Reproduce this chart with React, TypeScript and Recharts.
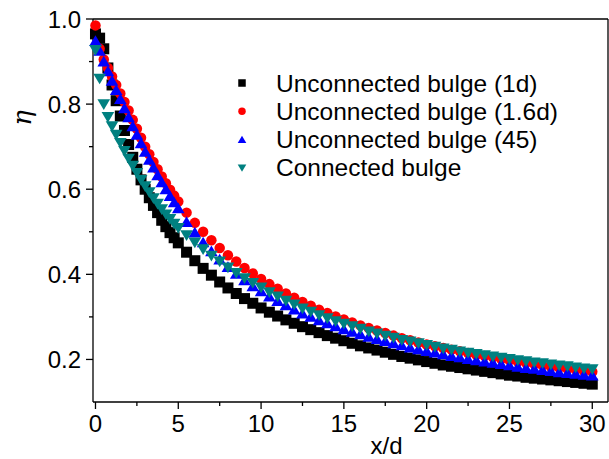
import React from "react";
import { Legend, ReferenceLine, Scatter, ScatterChart, XAxis, YAxis } from "recharts";

const FONT = "'Liberation Sans', Arial, sans-serif";

// x/d positions of the samples
const X_VALUES = [
  0, 0.25, 0.5, 0.75, 1, 1.25, 1.5, 1.75, 2, 2.25, 2.5, 2.75, 3, 3.25, 3.5, 3.75, 4, 4.25, 4.5, 4.75, 5,
  5.5, 6, 6.5, 7, 7.5, 8, 8.5, 9, 9.5, 10,
  10.5, 11, 11.5, 12, 12.5, 13, 13.5, 14, 14.5, 15,
  15.5, 16, 16.5, 17, 17.5, 18, 18.5, 19, 19.5, 20,
  20.5, 21, 21.5, 22, 22.5, 23, 23.5, 24, 24.5, 25,
  25.5, 26, 26.5, 27, 27.5, 28, 28.5, 29, 29.5, 30,
];

const UNCONNECTED_1D = [
  0.965, 0.955, 0.93, 0.885, 0.845, 0.808, 0.772, 0.738, 0.705, 0.675, 0.647, 0.622, 0.6, 0.58, 0.562, 0.545, 0.527, 0.512, 0.498, 0.486, 0.474,
  0.452, 0.432, 0.414, 0.398, 0.382, 0.368, 0.355, 0.343, 0.332, 0.321,
  0.311, 0.302, 0.293, 0.285, 0.277, 0.27, 0.263, 0.256, 0.25, 0.244,
  0.238, 0.232, 0.227, 0.222, 0.217, 0.212, 0.207, 0.203, 0.199, 0.195,
  0.191, 0.187, 0.184, 0.181, 0.178, 0.175, 0.172, 0.169, 0.166, 0.163,
  0.161, 0.158, 0.156, 0.154, 0.152, 0.15, 0.148, 0.146, 0.144, 0.142,
];

const UNCONNECTED_16D = [
  0.985, 0.93, 0.905, 0.885, 0.865, 0.845, 0.825, 0.805, 0.785, 0.763, 0.742, 0.721, 0.7, 0.682, 0.664, 0.647, 0.63, 0.614, 0.599, 0.585, 0.571,
  0.545, 0.521, 0.5, 0.48, 0.462, 0.445, 0.43, 0.415, 0.402, 0.389,
  0.377, 0.366, 0.355, 0.345, 0.335, 0.326, 0.317, 0.309, 0.301, 0.294,
  0.287, 0.28, 0.274, 0.268, 0.262, 0.256, 0.25, 0.245, 0.24, 0.235,
  0.231, 0.227, 0.223, 0.219, 0.215, 0.211, 0.208, 0.205, 0.201, 0.198,
  0.195, 0.192, 0.189, 0.186, 0.183, 0.181, 0.178, 0.176, 0.173, 0.171,
];

const UNCONNECTED_45 = [
  0.948, 0.925, 0.9, 0.877, 0.855, 0.833, 0.812, 0.79, 0.769, 0.748, 0.728, 0.708, 0.688, 0.669, 0.651, 0.633, 0.616, 0.6, 0.584, 0.569, 0.555,
  0.523, 0.498, 0.475, 0.454, 0.435, 0.417, 0.401, 0.386, 0.372, 0.36,
  0.348, 0.337, 0.327, 0.317, 0.308, 0.3, 0.292, 0.285, 0.278, 0.271,
  0.265, 0.259, 0.253, 0.248, 0.243, 0.238, 0.233, 0.228, 0.224, 0.22,
  0.216, 0.212, 0.208, 0.205, 0.201, 0.198, 0.195, 0.192, 0.189, 0.186,
  0.183, 0.18, 0.178, 0.175, 0.173, 0.17, 0.168, 0.166, 0.164, 0.162,
];

const CONNECTED = [
  0.927, 0.86, 0.8, 0.77, 0.748, 0.728, 0.709, 0.69, 0.672, 0.655, 0.638, 0.622, 0.607, 0.593, 0.579, 0.566, 0.553, 0.541, 0.53, 0.519, 0.509,
  0.492, 0.475, 0.459, 0.444, 0.43, 0.416, 0.403, 0.391, 0.38, 0.369,
  0.358, 0.348, 0.338, 0.329, 0.32, 0.312, 0.304, 0.297, 0.29, 0.284,
  0.278, 0.272, 0.266, 0.261, 0.256, 0.251, 0.246, 0.242, 0.238, 0.234,
  0.23, 0.226, 0.223, 0.219, 0.216, 0.213, 0.21, 0.207, 0.204, 0.201,
  0.198, 0.196, 0.193, 0.191, 0.188, 0.186, 0.184, 0.181, 0.179, 0.177,
];

const X_TICKS = [0, 2.5, 5, 7.5, 10, 12.5, 15, 17.5, 20, 22.5, 25, 27.5, 30];
const Y_TICKS = [0.2, 0.3, 0.4, 0.5, 0.6, 0.7, 0.8, 0.9, 1.0];

const toPoints = (ys: number[]) => X_VALUES.map((x, i) => ({ x, y: ys[i] }));

type MarkerKind = "square" | "circle" | "up" | "down";

function marker(kind: MarkerKind, cx: number, cy: number, s: number, fill: string) {
  const h = s / 2;
  if (kind === "square") return <rect x={cx - h} y={cy - h} width={s} height={s} fill={fill} />;
  if (kind === "circle") return <circle cx={cx} cy={cy} r={h} fill={fill} />;
  if (kind === "up")
    return <polygon points={`${cx},${cy - h * 1.05} ${cx + h * 1.15},${cy + h * 0.9} ${cx - h * 1.15},${cy + h * 0.9}`} fill={fill} />;
  return <polygon points={`${cx - h * 1.15},${cy - h * 0.9} ${cx + h * 1.15},${cy - h * 0.9} ${cx},${cy + h * 1.05}`} fill={fill} />;
}

const SERIES: { name: string; values: number[]; kind: MarkerKind; color: string }[] = [
  { name: "Unconnected bulge (1d)", values: UNCONNECTED_1D, kind: "square", color: "#000000" },
  { name: "Unconnected bulge (1.6d)", values: UNCONNECTED_16D, kind: "circle", color: "#FF0000" },
  { name: "Unconnected bulge (45)", values: UNCONNECTED_45, kind: "up", color: "#0000FF" },
  { name: "Connected bulge", values: CONNECTED, kind: "down", color: "#008080" },
];

const XTick = (props: any) => {
  const { x, y, payload } = props;
  const v = payload.value as number;
  const major = v % 5 === 0;
  return (
    <g>
      <line x1={x} x2={x} y1={y} y2={y + (major ? 7 : 4)} stroke="#000" strokeWidth={1.3} />
      {major && (
        <text x={x} y={y + 30} textAnchor="middle" fontSize={24} fontFamily={FONT} fill="#000">
          {v}
        </text>
      )}
    </g>
  );
};

const YTick = (props: any) => {
  const { x, y, payload } = props;
  const v = payload.value as number;
  const major = Math.round(v * 10) % 2 === 0;
  return (
    <g>
      <line x1={x - (major ? 7 : 4)} x2={x} y1={y} y2={y} stroke="#000" strokeWidth={1.3} />
      {major && (
        <text x={x - 12} y={y + 8.5} textAnchor="end" fontSize={24} fontFamily={FONT} fill="#000">
          {v.toFixed(1)}
        </text>
      )}
    </g>
  );
};

const LegendBox = () => (
  <svg width={360} height={120}>
    {SERIES.map((s, i) => (
      <g key={s.name}>
        {marker(s.kind, 12, 17 + i * 28.3, 7.5, s.color)}
        <text x={46} y={25.5 + i * 28.3} fontSize={24.5} fontFamily={FONT} fill="#000">
          {s.name}
        </text>
      </g>
    ))}
  </svg>
);

export default function App() {
  return (
    <div style={{ position: "absolute", left: 0, top: 0, width: 609, height: 459, background: "#fff" }}>
      <ScatterChart width={609} height={459} margin={{ top: 19, right: 1, bottom: 0, left: 0 }}>
        <XAxis
          type="number"
          dataKey="x"
          domain={[-0.15, 30.95]}
          ticks={X_TICKS}
          interval={0}
          height={57}
          tickSize={0}
          tickMargin={0}
          tickLine={false}
          axisLine={{ stroke: "#000", strokeWidth: 1.3 }}
          tick={<XTick />}
          label={{
            content: ({ viewBox }: any) => (
              <text x={viewBox.x + viewBox.width / 2 + 36} y={viewBox.y + 52} textAnchor="middle" fontSize={24} fontFamily={FONT} fill="#000">
                x/d
              </text>
            ),
          }}
        />
        <YAxis
          type="number"
          dataKey="y"
          domain={[0.1, 1.0]}
          ticks={Y_TICKS}
          interval={0}
          width={93}
          tickSize={0}
          tickMargin={0}
          tickLine={false}
          axisLine={{ stroke: "#000", strokeWidth: 1.3 }}
          tick={<YTick />}
          label={{
            content: () => (
              <text x={31} y={118} transform="rotate(-90 31 118)" textAnchor="middle" fontSize={26} fontStyle="italic" fontFamily="'DejaVu Serif', serif" fill="#000">
                η
              </text>
            ),
          }}
        />
        <ReferenceLine y={1.0} stroke="#000" strokeWidth={1.3} />
        <ReferenceLine x={30.95} stroke="#000" strokeWidth={1.3} />
        {SERIES.map((s) => (
          <Scatter
            key={s.name}
            name={s.name}
            data={toPoints(s.values)}
            isAnimationActive={false}
            shape={(p: any) => marker(s.kind, p.cx, p.cy, s.kind === "circle" ? 10.5 : 11, s.color)}
          />
        ))}
        <Legend
          layout="vertical"
          align="center"
          verticalAlign="middle"
          wrapperStyle={{ left: 230, top: 66, width: 360 }}
          content={() => <LegendBox />}
        />
      </ScatterChart>
    </div>
  );
}
